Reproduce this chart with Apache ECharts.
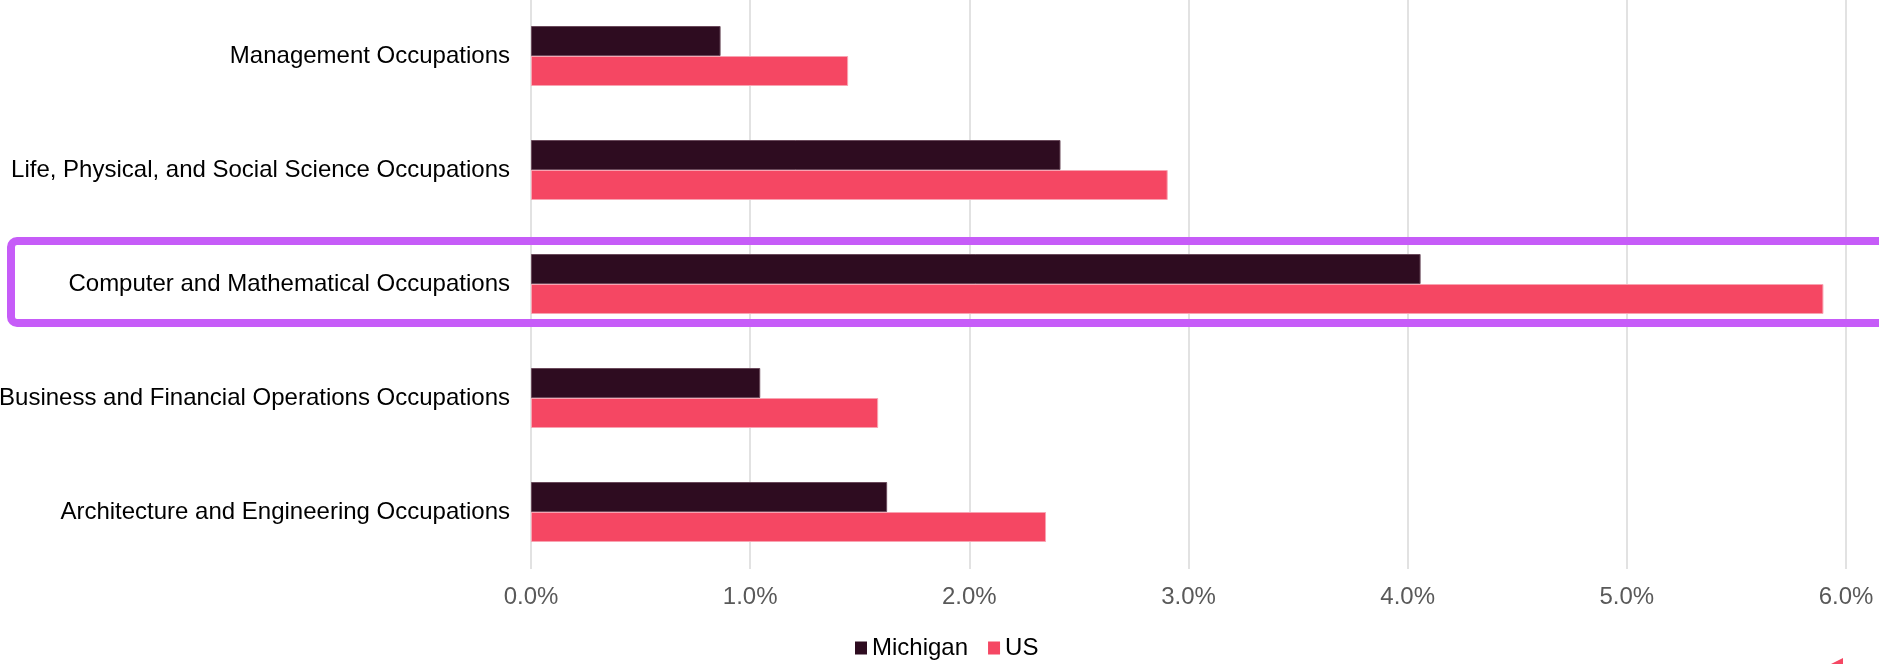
<!DOCTYPE html>
<html>
<head>
<meta charset="utf-8">
<script src="https://cdn.jsdelivr.net/npm/echarts@6/dist/echarts.min.js"></script>
<style>
html,body{margin:0;padding:0;background:#fff;}
#chart{width:1879px;height:664px;}
</style>
</head>
<body>
<div id="chart"></div>
<script>
var categories = [
	'Management Occupations',
	'Life, Physical, and Social Science Occupations',
	'Computer and Mathematical Occupations',
	'Business and Financial Operations Occupations',
	'Architecture and Engineering Occupations'
];
// share of jobs, in percent
var michigan = [0.865, 2.416, 4.059, 1.046, 1.625];
var us = [1.447, 2.905, 5.897, 1.584, 2.350];
var seriesNames = ['Michigan', 'US'];

var chart = echarts.init(document.getElementById('chart'));
var font = '"Liberation Sans", Arial, sans-serif';

chart.setOption({
	animation: false,
	backgroundColor: '#ffffff',
	grid: {
		left: 531,
		right: 33,
		top: -1,
		bottom: 95,
		containLabel: false,
		outerBoundsMode: 'none'
	},
	legend: {
		data: seriesNames,
		left: 855,
		top: 636,
		padding: 0,
		icon: 'rect',
		itemWidth: 12,
		itemHeight: 13,
		itemGap: 20,
		itemStyle: {borderWidth: 0},
		textStyle: {fontFamily: font, fontSize: 24, color: '#000'}
	},
	xAxis: {
		type: 'value',
		min: 0,
		max: 6,
		interval: 1,
		axisLine: {show: false},
		axisTick: {show: false},
		splitLine: {show: true, lineStyle: {color: '#d9d9d9', width: 1.5}},
		axisLabel: {
			margin: 16,
			fontFamily: font,
			fontSize: 24,
			color: '#595959',
			formatter: function (v) { return v.toFixed(1) + '%'; }
		}
	},
	yAxis: {
		type: 'category',
		data: categories,
		inverse: true,
		axisLine: {show: false},
		axisTick: {show: false},
		axisLabel: {margin: 21, fontFamily: font, fontSize: 24, color: '#000'}
	},
	series: [{
		name: seriesNames[0],
		type: 'bar',
		data: michigan,
		barWidth: 30,
		barGap: '0%',
		itemStyle: {color: '#2e0c20', borderColor: '#6a4a5b', borderWidth: 1}
	}, {
		name: seriesNames[1],
		type: 'bar',
		data: us,
		barWidth: 30,
		itemStyle: {color: '#f54763', borderColor: '#f8a3b1', borderWidth: 1}
	}],
	graphic: [{
		type: 'rect',
		z: 100,
		shape: {x: 11, y: 241, width: 1900, height: 82, r: 6},
		style: {fill: 'none', stroke: '#c65cf8', lineWidth: 8}
	}, {
		type: 'polygon',
		z: 100,
		shape: {points: [[1843, 658], [1843, 665], [1829, 665]]},
		style: {fill: '#f54763'}
	}]
});
window.onresize = chart.resize;
</script>
</body>
</html>
